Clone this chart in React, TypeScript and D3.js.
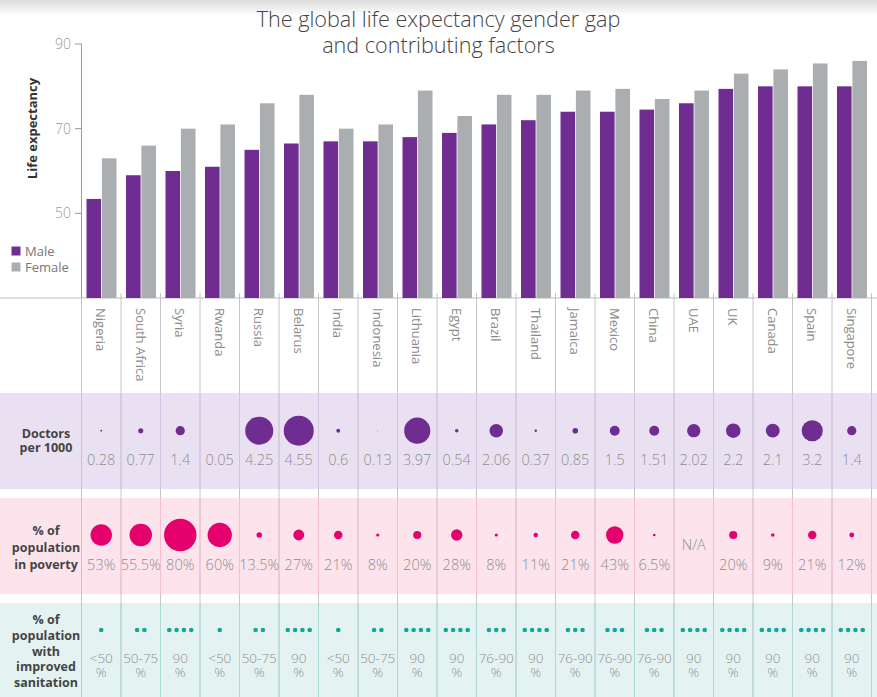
import React from "react";
import * as d3 from "d3";

const countries = ["Nigeria","South Africa","Syria","Rwanda","Russia","Belarus","India","Indonesia","Lithuania","Egypt","Brazil","Thailand","Jamaica","Mexico","China","UAE","UK","Canada","Spain","Singapore"];
const maleLE = [53.4,59,60,61,65,66.5,67,67,68,69,71,72,74,74,74.5,76,79.4,80,80,80];
const femaleLE = [63,66,70,71,76,78,70,71,79,73,78,78,79,79.4,77,79,83,84,85.4,86];
const doctors = [0.28,0.77,1.4,0.05,4.25,4.55,0.6,0.13,3.97,0.54,2.06,0.37,0.85,1.5,1.51,2.02,2.2,2.1,3.2,1.4];
const doctorLabels = ["0.28","0.77","1.4","0.05","4.25","4.55","0.6","0.13","3.97","0.54","2.06","0.37","0.85","1.5","1.51","2.02","2.2","2.1","3.2","1.4"];
const poverty: (number | null)[] = [53,55.5,80,60,13.5,27,21,8,20,28,8,11,21,43,6.5,null,20,9,21,12];
const povertyLabels = ["53%","55.5%","80%","60%","13.5%","27%","21%","8%","20%","28%","8%","11%","21%","43%","6.5%","N/A","20%","9%","21%","12%"];
const sanitation = ["<50","50-75","90","<50","50-75","90","<50","50-75","90","90","76-90","90","76-90","76-90","76-90","90","90","90","90","90"];
const sanitationLevels = ["<50","50-75","76-90","90"];
const yTicks = [50,70,90];
const seriesNames = ["Male","Female"];

const W = 877, H = 697;
const PURPLE = "#6f2c91", GREY = "#abaeb0", PINK = "#e4006d", TEAL = "#14a699";
const FONT = "'Open Sans', sans-serif";
const VAL = "#8e8e8e";

export default function App() {
  const x = d3.scaleBand<string>().domain(countries).range([81.5, 871.5]).padding(0);
  const sub = d3.scaleBand<string>().domain(seriesNames).range([5, 35]).paddingInner(0.05);
  const y = d3.scaleLinear().domain([30, 90]).range([298, 44]);
  const rDoc = d3.scaleLinear().domain([0, 4.55]).range([0, 15]);
  const rPov = d3.scaleLinear().domain([0, 80]).range([0, 16.2]);
  const dotCount = d3.scaleOrdinal<string, number>().domain(sanitationLevels).range([1, 2, 3, 4]);
  const bw = x.bandwidth();

  const bands = [
    { y0: 393, y1: 489, fill: "#e9e1f1", line: "#d3c6e4" },
    { y0: 498, y1: 594, fill: "#fde4ec", line: "#f4bfd2" },
    { y0: 603, y1: 697, fill: "#e4f3f2", line: "#aadcd7" },
  ];

  const boundaries = countries.map((c) => x(c)!).concat([x(countries[countries.length - 1])! + bw]);

  return (
    <svg width={W} height={H} style={{ position: "absolute", left: 0, top: 0, background: "#fff" }} fontFamily={FONT}>
      <defs>
        <linearGradient id="hdr" x1="0" y1="0" x2="0" y2="1">
          <stop offset="0" stopColor="#dcdcdc" />
          <stop offset="1" stopColor="#ffffff" />
        </linearGradient>
      </defs>
      <rect x={0} y={0} width={W} height={16} fill="url(#hdr)" />

      {/* title */}
      <text x={438.5} y={27} textAnchor="middle" fontSize={21.6} fill="#444" fontWeight={300}>The global life expectancy gender gap</text>
      <text x={438.5} y={53} textAnchor="middle" fontSize={21.6} fill="#444" fontWeight={300}>and contributing factors</text>

      {/* bands */}
      {bands.map((b, i) => (
        <rect key={i} x={0} y={b.y0} width={W} height={b.y1 - b.y0} fill={b.fill} />
      ))}

      {/* separators */}
      {boundaries.map((bx, i) => (
        <line key={"s" + i} x1={bx} x2={bx} y1={293} y2={H} stroke="#c6c6c6" strokeWidth={1} />
      ))}
      {bands.map((b, j) =>
        boundaries.slice(1).map((bx, i) => (
          <line key={"bs" + j + "-" + i} x1={bx} x2={bx} y1={b.y0} y2={b.y1} stroke={b.line} strokeWidth={1} />
        ))
      )}
      <line x1={0} x2={W} y1={298} y2={298} stroke="#bdbdbd" strokeWidth={1} />

      {/* y axis */}
      <line x1={81.5} x2={81.5} y1={44} y2={298} stroke="#9a9a9a" strokeWidth={1} />
      {yTicks.map((t) => (
        <g key={t}>
          <line x1={75} x2={81.5} y1={y(t)} y2={y(t)} stroke="#9a9a9a" strokeWidth={1} />
          <text x={71} y={y(t)} dy="0.35em" textAnchor="end" fontSize={14} fill="#9a9a9a" fontWeight={300}>{t}</text>
        </g>
      ))}
      <text transform="translate(37,128.5) rotate(-90)" textAnchor="middle" fontSize={13} fontWeight={700} fill="#333">Life expectancy</text>

      {/* bars */}
      {countries.map((c, i) => (
        <g key={c}>
          <rect x={x(c)! + sub("Male")!} y={y(maleLE[i])} width={sub.bandwidth()} height={y(30) - y(maleLE[i])} fill={PURPLE} />
          <rect x={x(c)! + sub("Female")!} y={y(femaleLE[i])} width={sub.bandwidth()} height={y(30) - y(femaleLE[i])} fill={GREY} />
        </g>
      ))}

      {/* legend */}
      <rect x={11.5} y={246.5} width={9} height={9} fill={PURPLE} />
      <text x={25} y={256} fontSize={13} fill="#777">Male</text>
      <rect x={11.5} y={262.5} width={9} height={9} fill={GREY} />
      <text x={25} y={272} fontSize={13} fill="#777">Female</text>

      {/* country labels */}
      {countries.map((c) => (
        <text key={"cl" + c} transform={`translate(${x(c)! + 14.5},308) rotate(90)`} fontSize={13} fill="#8a8a8a">{c}</text>
      ))}

      {/* doctors row */}
      <text x={46} y={438} textAnchor="middle" fontSize={12.5} fontWeight={700} fill="#444">
        <tspan x={46}>Doctors</tspan>
        <tspan x={46} dy={14}>per 1000</tspan>
      </text>
      {countries.map((c, i) => (
        <g key={"d" + c}>
          <circle cx={x(c)! + bw / 2} cy={430.7} r={rDoc(doctors[i])} fill={PURPLE} />
          <text x={x(c)! + bw / 2} y={465} textAnchor="middle" fontSize={14.5} fill={VAL} fontWeight={300}>{doctorLabels[i]}</text>
        </g>
      ))}

      {/* poverty row */}
      <text x={46} y={535} textAnchor="middle" fontSize={12.5} fontWeight={700} fill="#444">
        {["% of", "population", "in poverty"].map((t, k) => (
          <tspan key={k} x={46} dy={k === 0 ? 0 : 17}>{t}</tspan>
        ))}
      </text>
      {countries.map((c, i) => {
        const v = poverty[i];
        return (
          <g key={"p" + c}>
            {v !== null && <circle cx={x(c)! + bw / 2} cy={535} r={rPov(v)} fill={PINK} />}
            <text x={x(c)! + bw / 2} y={v === null ? 550 : 570} textAnchor="middle" fontSize={14.5} fill={VAL} fontWeight={300}>{povertyLabels[i]}</text>
          </g>
        );
      })}

      {/* sanitation row */}
      <text x={46} y={624} textAnchor="middle" fontSize={12.5} fontWeight={700} fill="#444">
        {["% of", "population", "with", "improved", "sanitation"].map((t, k) => (
          <tspan key={k} x={46} dy={k === 0 ? 0 : 15.8}>{t}</tspan>
        ))}
      </text>
      {countries.map((c, i) => {
        const n = dotCount(sanitation[i]);
        const cx = x(c)! + bw / 2;
        return (
          <g key={"sn" + c}>
            {d3.range(n).map((k) => (
              <circle key={k} cx={cx + (k - (n - 1) / 2) * 7.3} cy={630} r={2.3} fill={TEAL} />
            ))}
            <text x={cx} y={662.5} textAnchor="middle" fontSize={13.5} fill={VAL} fontWeight={300}>
              <tspan x={cx}>{sanitation[i]}</tspan>
              <tspan x={cx} dy={14.5}>%</tspan>
            </text>
          </g>
        );
      })}
    </svg>
  );
}
